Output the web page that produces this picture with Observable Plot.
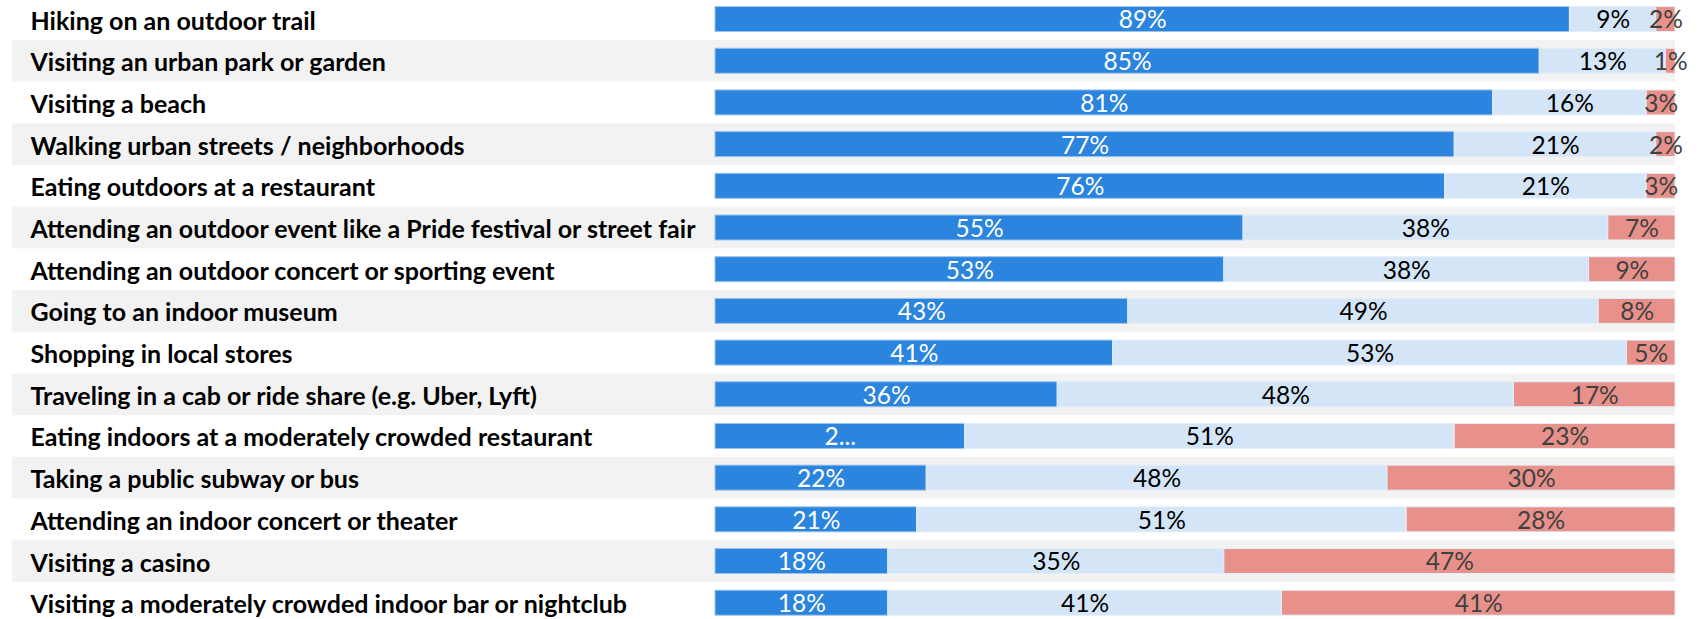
<!DOCTYPE html>
<html>
<head>
<meta charset="utf-8">
<script src="https://cdn.jsdelivr.net/npm/d3@7"></script>
<script src="https://cdn.jsdelivr.net/npm/@observablehq/plot@0.6"></script>
<style>
  html, body { margin: 0; padding: 0; background: #ffffff; }
  #chart svg { display: block; }
</style>
</head>
<body>
<div id="chart"></div>
<script>
// Activities, top to bottom
const activities = [
  "Hiking on an outdoor trail",
  "Visiting an urban park or garden",
  "Visiting a beach",
  "Walking urban streets / neighborhoods",
  "Eating outdoors at a restaurant",
  "Attending an outdoor event like a Pride festival or street fair",
  "Attending an outdoor concert or sporting event",
  "Going to an indoor museum",
  "Shopping in local stores",
  "Traveling in a cab or ride share (e.g. Uber, Lyft)",
  "Eating indoors at a moderately crowded restaurant",
  "Taking a public subway or bus",
  "Attending an indoor concert or theater",
  "Visiting a casino",
  "Visiting a moderately crowded indoor bar or nightclub"
];

// Share of respondents per activity (percent)
const comfortable   = [89, 85, 81, 77, 76, 55, 53, 43, 41, 36, 26, 22, 21, 18, 18];
const neutral       = [ 9, 13, 16, 21, 21, 38, 38, 49, 53, 48, 51, 48, 51, 35, 41];
const uncomfortable = [ 2,  1,  3,  2,  3,  7,  9,  8,  5, 17, 23, 30, 28, 47, 41];

// Labels that do not fit their segment are shortened
const shortLabels = {"Eating indoors at a moderately crowded restaurant|comfortable": "2..."};

const groups = ["comfortable", "neutral", "uncomfortable"];
const series = {comfortable, neutral, uncomfortable};
const fills = {comfortable: "#2b84dd", neutral: "#d4e5f7", uncomfortable: "#e8918a"};
const inks = {comfortable: "#ffffff", neutral: "#000000", uncomfortable: "#404040"};

const rows = activities.flatMap((activity, i) =>
  groups.map(group => ({
    activity,
    group,
    value: series[group][i],
    label: shortLabels[`${activity}|${group}`] ?? `${series[group][i]}%`
  }))
);

const stripes = activities.filter((d, i) => i % 2 === 1);

const stack = options => Plot.stackX({
  x: "value", y: "activity", z: "group", offset: "normalize", ...options
});

const chart = Plot.plot({
  width: 1700,
  height: 619,
  marginLeft: 715,
  marginRight: 25,
  marginTop: 0,
  marginBottom: 0,
  style: {fontFamily: "Lato, 'Noto Sans', sans-serif", background: "#ffffff"},
  x: {domain: [0, 1], axis: null},
  y: {domain: activities, range: [-1.75, 623.6], padding: 0, round: false, axis: null},
  marks: [
    // alternating row shading, reaching under the row labels
    Plot.barX(stripes, {y: d => d, x1: 0, x2: 1, fill: "#f2f2f2", insetLeft: -703}),
    Plot.barX(rows, stack({
      fill: d => fills[d.group],
      stroke: d => d.group === "comfortable" ? "#9cc3ec" : "#e3eefa",
      strokeWidth: 1,
      insetTop: 8.3,
      insetBottom: 8.4
    })),
    Plot.text(rows, stack({
      text: "label",
      fill: d => inks[d.group],
      fontSize: 24.5,
      dy: 1
    })),
    Plot.axisY({
      tickSize: 0,
      tickPadding: 0,
      textAnchor: "start",
      dx: -685,
      dy: 2,
      fontSize: 25,
      fontWeight: "bold",
      fill: "#000000",
      label: null
    })
  ]
});

document.getElementById("chart").append(chart);
</script>
</body>
</html>
